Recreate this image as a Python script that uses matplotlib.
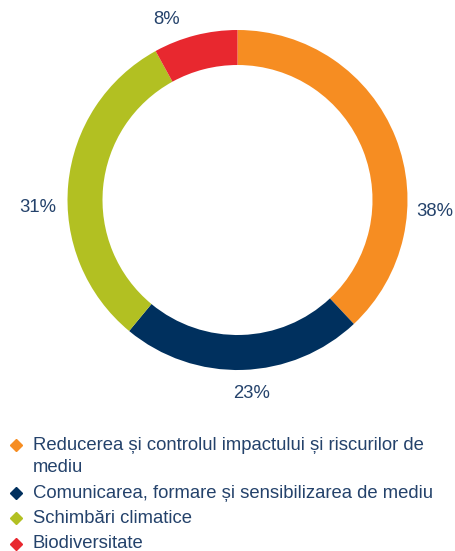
import textwrap
import matplotlib
matplotlib.use("Agg")
import matplotlib.pyplot as plt
from matplotlib.lines import Line2D

categories = [
    "Reducerea și controlul impactului și riscurilor de mediu",
    "Comunicarea, formare și sensibilizarea de mediu",
    "Schimbări climatice",
    "Biodiversitate",
]
values = [38, 23, 31, 8]
value_labels = ["38%", "23%", "31%", "8%"]
colors = ["#F68D22", "#00305E", "#B2C022", "#E8282F"]

TEXT_COLOR = "#24426B"
FONT = ["Liberation Sans", "DejaVu Sans"]
plt.rcParams["font.family"] = FONT

W, H = 456, 551
fig = plt.figure(figsize=(W / 100, H / 100), dpi=100)

# donut: center (237,200) px, outer radius 170 px, ring 35 px
cx, cy, R = 237.5, 200, 170
ax = fig.add_axes([(cx - R) / W, (H - cy - R) / H, 2 * R / W, 2 * R / H])
ax.pie(values, colors=colors, startangle=90, counterclock=False, radius=1,
       wedgeprops=dict(width=35 / R, linewidth=0))
ax.set_xlim(-1, 1)
ax.set_ylim(-1, 1)
ax.set_aspect("equal")
ax.axis("off")

# percentage labels (pixel positions of label centres)
label_pos = [(435, 212), (252, 393), (38, 208), (167, 20)]
for (px, py), lab in zip(label_pos, value_labels):
    fig.text(px / W, 1 - py / H, lab, ha="center", va="center",
             fontsize=13.3, color=TEXT_COLOR)

# legend
y = 450.0
for cat, col in zip(categories, colors):
    lines = textwrap.wrap(cat, width=50)
    fig.add_artist(Line2D([16 / W], [1 - (y - 5) / H], marker="D",
                          markersize=6.3, color=col, linestyle="none",
                          transform=fig.transFigure))
    for i, line in enumerate(lines):
        fig.text(33 / W, 1 - y / H, line, ha="left", va="baseline",
                 fontsize=13.3, color=TEXT_COLOR)
        if i < len(lines) - 1:
            y += 22
    y += 25.5

fig.savefig("out.png", dpi=100, facecolor="white")
